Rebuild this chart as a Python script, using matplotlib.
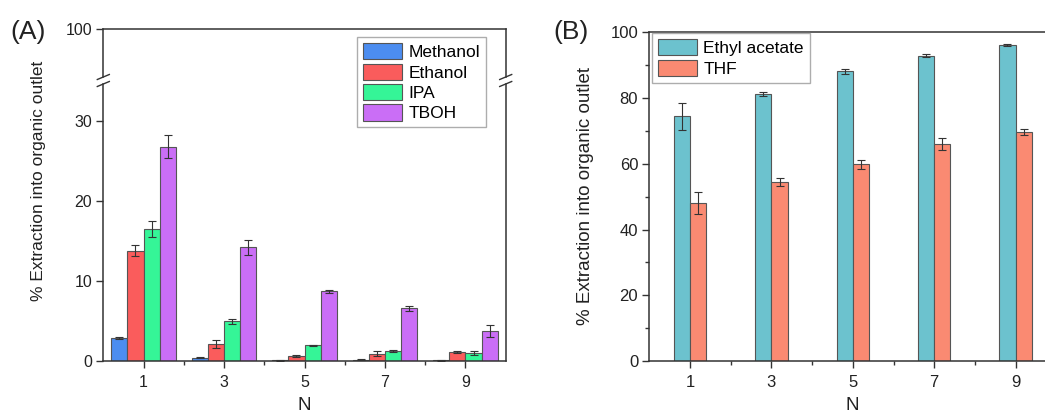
import matplotlib
matplotlib.use("Agg")
import matplotlib.pyplot as plt
import numpy as np
from matplotlib.lines import Line2D

plt.rcParams['font.family'] = ['Liberation Sans', 'DejaVu Sans']

# ---------------- data ----------------
N = [1, 3, 5, 7, 9]

# Panel A
methanol = [2.9, 0.4, 0.1, 0.15, 0.1]
methanol_err = [0.1, 0.05, 0.05, 0.05, 0.05]
ethanol = [13.8, 2.1, 0.65, 0.9, 1.15]
ethanol_err = [0.7, 0.5, 0.1, 0.3, 0.15]
ipa = [16.5, 4.95, 1.95, 1.25, 1.0]
ipa_err = [1.05, 0.3, 0.1, 0.1, 0.2]
tboh = [26.8, 14.2, 8.7, 6.6, 3.7]
tboh_err = [1.4, 0.9, 0.2, 0.3, 0.75]

seriesA = ["Methanol", "Ethanol", "IPA", "TBOH"]
valsA = [methanol, ethanol, ipa, tboh]
errsA = [methanol_err, ethanol_err, ipa_err, tboh_err]
colorsA = ["#4C8DF0", "#FA5C5C", "#35F597", "#CA6EF6"]

# Panel B
ethyl_acetate = [74.5, 81.2, 88.1, 92.9, 96.1]
ethyl_acetate_err = [4.1, 0.5, 0.8, 0.5, 0.2]
thf = [48.0, 54.5, 59.8, 65.9, 69.7]
thf_err = [3.4, 1.2, 1.5, 1.8, 1.0]

seriesB = ["Ethyl acetate", "THF"]
valsB = [ethyl_acetate, thf]
errsB = [ethyl_acetate_err, thf_err]
colorsB = ["#6CC2CE", "#FA8A72"]

# ---------------- figure ----------------
W, H = 1045, 415
fig = plt.figure(figsize=(W / 100, H / 100), dpi=100)

def rect(x0, y0, x1, y1):
    return [x0 / W, 1 - y1 / H, (x1 - x0) / W, (y1 - y0) / H]

spine_c = "#333333"
edge_c = "#555555"
tick_fs = 11.5
bar_w = 0.4

def style_ax(ax):
    for s in ax.spines.values():
        s.set_color(spine_c)
        s.set_linewidth(1.1)
    ax.tick_params(direction='out', length=5, width=1.0, colors=spine_c,
                   labelcolor="#222222", labelsize=tick_fs, pad=3)
    ax.tick_params(which='minor', direction='out', length=3, width=1.0, colors=spine_c)
    ax.tick_params(top=False, right=False, which='both')

# Panel A: broken axis
axA_top = fig.add_axes(rect(103.3, 29.3, 505.7, 77))
axA = fig.add_axes(rect(103.3, 84, 505.7, 361))

x = np.array(N, dtype=float)
offsA = [-1.5, -0.5, 0.5, 1.5]
for name, v, e, c, o in zip(seriesA, valsA, errsA, colorsA, offsA):
    axA.bar(x + o * bar_w, v, width=bar_w, color=c, edgecolor=edge_c,
            linewidth=0.8, label=name, zorder=2)
    axA.errorbar(x + o * bar_w, v, yerr=e, fmt='none', ecolor="#333333",
                 elinewidth=0.8, capsize=3, capthick=0.8, zorder=3)

axA.set_xlim(0, 10)
axA.set_ylim(0, (361 - 84) / 8.0)
axA.set_yticks([0, 10, 20, 30])
axA.set_xticks(N)
axA.set_xticks([2, 4, 6, 8], minor=True)
style_ax(axA)
axA.spines['top'].set_visible(False)
axA.tick_params(axis='x', pad=5)

axA_top.set_xlim(0, 10)
axA_top.set_ylim(95, 100)
axA_top.set_yticks([100])
axA_top.set_xticks([])
style_ax(axA_top)
axA_top.spines['bottom'].set_visible(False)
axA_top.tick_params(axis='x', bottom=False, labelbottom=False)

# break marks
for xp in (103.3, 505.7):
    for yp in (77, 84):
        fig.add_artist(Line2D([(xp - 6) / W, (xp + 6) / W],
                              [1 - (yp + 2.5) / H, 1 - (yp - 2.5) / H],
                              color=spine_c, linewidth=1.0))

hA = [plt.Rectangle((0, 0), 1, 1, facecolor=c, edgecolor=edge_c, linewidth=0.8)
      for c in colorsA]
legA = fig.legend(hA, seriesA, loc='upper left',
                  bbox_to_anchor=(357 / W, 1 - 37 / H), fontsize=12.5,
                  frameon=True, fancybox=False, edgecolor="#999999",
                  handlelength=2.25, handleheight=1.05, labelspacing=0.2,
                  handletextpad=0.35, borderpad=0.35, borderaxespad=0)
legA.get_frame().set_linewidth(1.0)

fig.text(10 / W, 1 - 32 / H, "(A)", fontsize=19, ha='left', va='center', color="#222222")
fig.text(39 / W, 1 - 181 / H, "% Extraction into organic outlet", rotation=90,
         fontsize=12.5, ha='center', va='center', color="#222222")
fig.text(304 / W, 1 - 397 / H, "N", fontsize=13.5, ha='center', va='top', color="#222222")

# Panel B
axB = fig.add_axes(rect(649.3, 32.3, 649.3 + 407, 361))
offsB = [-0.5, 0.5]
for name, v, e, c, o in zip(seriesB, valsB, errsB, colorsB, offsB):
    axB.bar(x + o * bar_w, v, width=bar_w, color=c, edgecolor=edge_c,
            linewidth=0.8, label=name, zorder=2)
    axB.errorbar(x + o * bar_w, v, yerr=e, fmt='none', ecolor="#333333",
                 elinewidth=0.8, capsize=3, capthick=0.8, zorder=3)
axB.set_xlim(0, 10)
axB.set_ylim(0, 100)
axB.set_yticks([0, 20, 40, 60, 80, 100])
axB.set_yticks([10, 30, 50, 70, 90], minor=True)
axB.set_xticks(N)
axB.set_xticks([2, 4, 6, 8], minor=True)
style_ax(axB)
axB.tick_params(labelsize=12)
axB.tick_params(axis='x', pad=5)

hB = [plt.Rectangle((0, 0), 1, 1, facecolor=c, edgecolor=edge_c, linewidth=0.8)
      for c in colorsB]
legB = fig.legend(hB, seriesB, loc='upper left',
                  bbox_to_anchor=(652 / W, 1 - 33 / H), fontsize=12.5,
                  frameon=True, fancybox=False, edgecolor="#999999",
                  handlelength=2.25, handleheight=1.05, labelspacing=0.2,
                  handletextpad=0.35, borderpad=0.35, borderaxespad=0)
legB.get_frame().set_linewidth(1.0)

fig.text(553 / W, 1 - 32 / H, "(B)", fontsize=19, ha='left', va='center', color="#222222")
fig.text(586 / W, 1 - 196 / H, "% Extraction into organic outlet", rotation=90,
         fontsize=13.5, ha='center', va='center', color="#222222")
fig.text(852 / W, 1 - 397 / H, "N", fontsize=13.5, ha='center', va='top', color="#222222")

fig.savefig("out.png", dpi=100)
